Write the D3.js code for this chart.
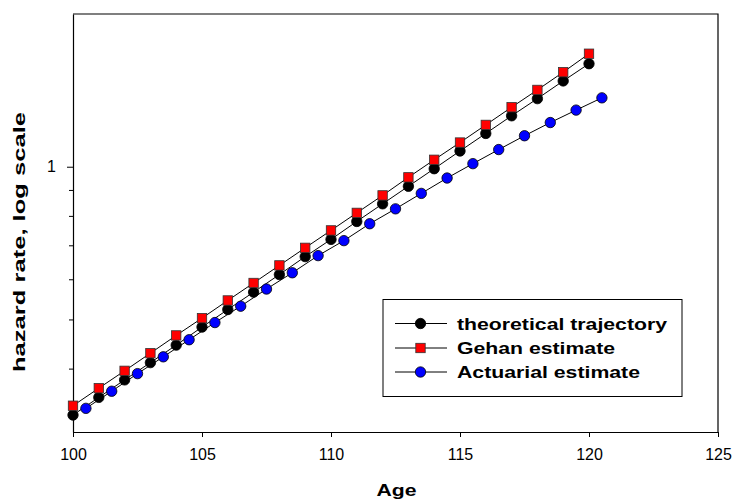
<!DOCTYPE html>
<html>
<head>
<meta charset="utf-8">
<script src="https://cdn.jsdelivr.net/npm/d3@7"></script>
<style>
  html, body { margin: 0; padding: 0; background: #fff; }
  svg { display: block; font-family: Arial, "Liberation Sans", sans-serif; }
</style>
</head>
<body>
<svg id="chart" width="732" height="500"></svg>
<script>
// ---- data ----
const ages = [100, 101, 102, 103, 104, 105, 106, 107, 108, 109, 110, 111, 112, 113, 114, 115, 116, 117, 118, 119, 120];
const actuarialAges = [100.5, 101.5, 102.5, 103.5, 104.5, 105.5, 106.5, 107.5, 108.5, 109.5, 110.5, 111.5, 112.5, 113.5, 114.5, 115.5, 116.5, 117.5, 118.5, 119.5, 120.5];
const theoretical = [0.324, 0.351, 0.380, 0.411, 0.445, 0.483, 0.523, 0.566, 0.613, 0.665, 0.719, 0.780, 0.845, 0.915, 0.991, 1.074, 1.163, 1.260, 1.362, 1.476, 1.596];
const gehan = [0.338, 0.366, 0.396, 0.429, 0.465, 0.503, 0.545, 0.590, 0.639, 0.692, 0.749, 0.811, 0.878, 0.953, 1.032, 1.116, 1.209, 1.310, 1.417, 1.536, 1.670];
const actuarial = [0.334, 0.361, 0.391, 0.422, 0.456, 0.493, 0.531, 0.574, 0.618, 0.668, 0.715, 0.772, 0.826, 0.886, 0.950, 1.014, 1.081, 1.151, 1.222, 1.293, 1.367];
const xTicks = [100, 105, 110, 115, 120, 125];
const yMajorTicks = [1];
const yMinorTicks = [0.4, 0.5, 0.6, 0.7, 0.8, 0.9];
const seriesNames = ["theoretical trajectory", "Gehan estimate", "Actuarial estimate"];

// ---- layout ----
const svg = d3.select("#chart");
const mLeft = 73, mRight = 718, mTop = 14, mBottom = 432;
const x = d3.scaleLinear().domain([100, 125]).range([mLeft, mRight]);
const y = d3.scaleLog().domain([0.3, 2]).range([mBottom, mTop]);
const FONT = "Arial, 'Liberation Sans', sans-serif";

// frame (top and right borders)
svg.append("path")
  .attr("d", `M${mLeft},${mTop}H${mRight}V${mBottom}`)
  .attr("fill", "none").attr("stroke", "#000").attr("stroke-width", 1.2);

// x axis
const xAxis = svg.append("g").attr("transform", `translate(0,${mBottom})`)
  .call(d3.axisBottom(x).tickValues(xTicks).tickSizeInner(5).tickSizeOuter(0).tickPadding(12).tickFormat(d3.format("d")));
xAxis.select(".domain").attr("stroke-width", 1.2);
xAxis.selectAll("text").attr("font-size", 16).attr("font-family", FONT).attr("fill", "#000");

// y axis
const yAxis = svg.append("g").attr("transform", `translate(${mLeft},0)`)
  .call(d3.axisLeft(y).tickValues(yMajorTicks).tickSizeInner(6).tickSizeOuter(0).tickPadding(11).tickFormat(d3.format("d")));
yAxis.select(".domain").attr("stroke-width", 1.2);
yAxis.selectAll("text").attr("font-size", 16).attr("font-family", FONT).attr("fill", "#000");
const yMinor = svg.append("g").attr("transform", `translate(${mLeft},0)`)
  .call(d3.axisLeft(y).tickValues(yMinorTicks).tickSizeInner(4).tickSizeOuter(0).tickFormat(""));
yMinor.select(".domain").remove();

// axis titles
svg.append("text").attr("x", (mLeft + mRight) / 2 + 1).attr("y", 496)
  .attr("text-anchor", "middle").attr("font-weight", "bold").attr("font-size", 17)
  .attr("textLength", 40).attr("lengthAdjust", "spacingAndGlyphs")
  .text("Age");
svg.append("text").attr("transform", "translate(25,242) rotate(-90)")
  .attr("text-anchor", "middle").attr("font-weight", "bold").attr("font-size", 17)
  .attr("textLength", 260).attr("lengthAdjust", "spacingAndGlyphs")
  .text("hazard rate, log scale");

// series
const line = d3.line().x(d => x(d[0])).y(d => y(d[1]));
const theoData = ages.map((a, i) => [a, theoretical[i]]);
const gehanData = ages.map((a, i) => [a, gehan[i]]);
const actData = actuarialAges.map((a, i) => [a, actuarial[i]]);

[theoData, gehanData, actData].forEach(data => {
  svg.append("path").datum(data).attr("d", line)
    .attr("fill", "none").attr("stroke", "#000").attr("stroke-width", 1);
});

function drawCircles(data, fill) {
  svg.append("g").selectAll("circle").data(data).join("circle")
    .attr("cx", d => x(d[0])).attr("cy", d => y(d[1])).attr("r", 5.2)
    .attr("fill", fill).attr("stroke", "#000").attr("stroke-width", 0.8);
}
function drawSquares(data) {
  svg.append("g").selectAll("rect").data(data).join("rect")
    .attr("x", d => x(d[0]) - 4.7).attr("y", d => y(d[1]) - 4.7)
    .attr("width", 9.4).attr("height", 9.4)
    .attr("fill", "#ff0000").attr("stroke", "#333").attr("stroke-width", 0.8);
}
drawCircles(theoData, "#000");
drawSquares(gehanData);
drawCircles(actData, "#0000ff");

// legend
const legendLengths = [210, 158, 183];
const lg = svg.append("g");
lg.append("rect").attr("x", 383).attr("y", 299.5).attr("width", 299).attr("height", 97)
  .attr("fill", "#fff").attr("stroke", "#000").attr("stroke-width", 1);
const rows = [323.5, 348, 372];
rows.forEach((ry, i) => {
  lg.append("line").attr("x1", 395).attr("x2", 447).attr("y1", ry).attr("y2", ry)
    .attr("stroke", "#000").attr("stroke-width", 1);
  if (i === 1) {
    lg.append("rect").attr("x", 415.8).attr("y", ry - 4.7).attr("width", 9.4).attr("height", 9.4)
      .attr("fill", "#ff0000").attr("stroke", "#333").attr("stroke-width", 0.8);
  } else {
    lg.append("circle").attr("cx", 420.5).attr("cy", ry).attr("r", 5.2)
      .attr("fill", i === 0 ? "#000" : "#0000ff").attr("stroke", "#000").attr("stroke-width", 0.8);
  }
  lg.append("text").attr("x", 457).attr("y", ry).attr("dy", "0.36em")
    .attr("font-weight", "bold").attr("font-size", 17)
    .attr("textLength", legendLengths[i]).attr("lengthAdjust", "spacingAndGlyphs")
    .text(seriesNames[i]);
});
</script>
</body>
</html>
